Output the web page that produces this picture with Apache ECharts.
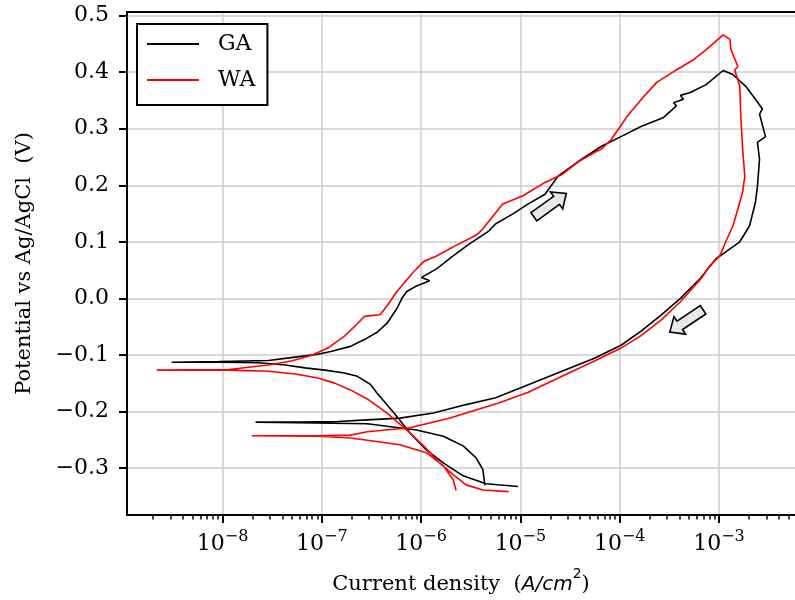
<!DOCTYPE html>
<html><head><meta charset="utf-8">
<script src="https://cdn.jsdelivr.net/npm/echarts@6/dist/echarts.min.js"></script>
<style>html,body{margin:0;padding:0;background:#fff}#c{width:795px;height:600px}</style>
</head><body><div id="c"></div><script>
// GA (black): forward scan (cathodic -> Ecorr -> anodic -> apex) then reverse scan
const gaCurrent = [
  9.5e-6, 4.49e-6, 2.65e-6, 1.67e-6, 1.13e-6, 7.69e-7, 5.33e-7, 3.61e-7, 3.07e-7, 2.28e-7, 1.69e-7, 1.07e-7, 6.78e-8, 4.28e-8, 2.31e-8, 9.2e-9, 3.07e-9,
  9.2e-9, 2.9e-8, 5.39e-8, 9.12e-8, 1.23e-7, 1.94e-7, 2.68e-7, 3.61e-7, 4.54e-7, 5.7e-7, 6.4e-7, 7.17e-7, 9.0e-7, 1.22e-6, 1.01e-6, 1.43e-6, 2.1e-6, 3.04e-6, 4.8e-6, 5.64e-6, 8.32e-6, 1.2e-5, 1.77e-5, 2.39e-5, 4.14e-5, 6.55e-5, 1.03e-4, 1.64e-4, 2.77e-4, 3.25e-4, 3.73e-4, 3.48e-4, 4.38e-4, 4.09e-4, 5.14e-4, 7.43e-4, 1.1e-3,
  1.38e-3, 1.86e-3, 2.33e-3, 2.74e-3, 2.56e-3, 2.94e-3, 2.44e-3, 2.56e-3, 2.44e-3, 2.33e-3, 2.03e-3, 1.62e-3, 1.17e-3, 9.33e-4, 6.47e-4, 4.09e-4, 2.59e-4, 1.64e-4, 1.03e-4, 5.57e-5, 2.62e-5, 1.2e-5, 5.64e-6, 2.84e-6, 1.33e-6, 6.11e-7, 2.87e-7, 1.44e-7, 5.78e-8, 2.15e-8,
  5.78e-8, 2.87e-7, 9.0e-7, 1.67e-6, 2.65e-6, 3.57e-6, 4.19e-6, 4.38e-6
];
const gaPotential = [
  -0.333, -0.328, -0.314, -0.291, -0.268, -0.238, -0.203, -0.168, -0.152, -0.138, -0.132, -0.127, -0.123, -0.118, -0.114, -0.113, -0.113,
  -0.112, -0.110, -0.104, -0.099, -0.094, -0.085, -0.073, -0.060, -0.044, -0.018, 0.000, 0.012, 0.022, 0.031, 0.037, 0.052, 0.075, 0.096, 0.119, 0.132, 0.149, 0.167, 0.184, 0.216, 0.246, 0.269, 0.286, 0.304, 0.320, 0.331, 0.341, 0.346, 0.352, 0.359, 0.364, 0.378, 0.403,
  0.396, 0.375, 0.352, 0.335, 0.326, 0.286, 0.276, 0.246, 0.198, 0.170, 0.128, 0.100, 0.082, 0.070, 0.035, 0.000, -0.030, -0.058, -0.083, -0.106, -0.129, -0.153, -0.176, -0.188, -0.203, -0.212, -0.215, -0.218, -0.219, -0.219,
  -0.220, -0.222, -0.233, -0.244, -0.261, -0.282, -0.303, -0.331
];
// WA (red)
const waCurrent = [
  7.6e-6, 4.19e-6, 2.84e-6, 2.1e-6, 1.53e-6, 1.06e-6, 7.17e-7, 4.54e-7, 2.87e-7, 1.94e-7, 1.35e-7, 9.12e-8, 5.39e-8, 2.9e-8, 1.16e-8, 2.18e-9,
  1.16e-8, 2.9e-8, 4.92e-8, 7.78e-8, 1.15e-7, 1.69e-7, 2.28e-7, 2.68e-7, 3.86e-7, 4.54e-7, 5.7e-7, 8.42e-7, 1.06e-6, 1.43e-6, 2.1e-6, 3.33e-6, 3.73e-6, 4.19e-6, 6.62e-6, 1.05e-5, 1.77e-5, 2.62e-5, 3.78e-5, 5.57e-5, 6.55e-5, 8.22e-5, 1.19e-4, 1.75e-4, 2.36e-4, 3.73e-4, 5.51e-4, 7.43e-4, 1.1e-3,
  1.29e-3, 1.32e-3, 1.55e-3, 1.44e-3, 1.62e-3, 1.66e-3, 1.73e-3, 1.82e-3, 1.73e-3, 1.55e-3, 1.38e-3, 1.17e-3, 1.02e-3, 8.13e-4, 6.62e-4, 4.09e-4, 2.59e-4, 1.64e-4, 1.03e-4, 5.57e-5, 2.62e-5, 1.2e-5, 6.04e-6, 1.92e-6, 7.69e-7, 2.87e-7, 1.94e-7, 9.12e-8, 1.97e-8,
  9.12e-8, 1.94e-7, 2.87e-7, 6.11e-7, 1.13e-6, 1.67e-6, 2.1e-6, 2.25e-6
];
const waPotential = [
  -0.342, -0.339, -0.330, -0.312, -0.291, -0.261, -0.233, -0.203, -0.178, -0.162, -0.150, -0.141, -0.134, -0.129, -0.127, -0.127,
  -0.126, -0.118, -0.111, -0.101, -0.088, -0.067, -0.045, -0.032, -0.029, -0.013, 0.012, 0.047, 0.065, 0.075, 0.091, 0.109, 0.114, 0.123, 0.167, 0.181, 0.205, 0.219, 0.241, 0.258, 0.264, 0.281, 0.322, 0.357, 0.382, 0.404, 0.422, 0.440, 0.466,
  0.458, 0.440, 0.410, 0.404, 0.375, 0.322, 0.264, 0.216, 0.188, 0.158, 0.128, 0.100, 0.075, 0.058, 0.035, -0.006, -0.039, -0.066, -0.088, -0.111, -0.138, -0.166, -0.185, -0.212, -0.229, -0.236, -0.242, -0.243, -0.243,
  -0.244, -0.247, -0.251, -0.259, -0.273, -0.296, -0.321, -0.340
];
const seriesNames = ['GA', 'WA'];
const xTicks = [1e-8, 1e-7, 1e-6, 1e-5, 1e-4, 1e-3];
const xTickExp = ['−8', '−7', '−6', '−5', '−4', '−3'];
const xMinorTicks = [
  2e-9,3e-9,4e-9,5e-9,6e-9,7e-9,8e-9,9e-9,
  2e-8,3e-8,4e-8,5e-8,6e-8,7e-8,8e-8,9e-8,
  2e-7,3e-7,4e-7,5e-7,6e-7,7e-7,8e-7,9e-7,
  2e-6,3e-6,4e-6,5e-6,6e-6,7e-6,8e-6,9e-6,
  2e-5,3e-5,4e-5,5e-5,6e-5,7e-5,8e-5,9e-5,
  2e-4,3e-4,4e-4,5e-4,6e-4,7e-4,8e-4,9e-4,
  2e-3,3e-3,4e-3,5e-3
];
const yTicks = [-0.3, -0.2, -0.1, 0, 0.1, 0.2, 0.3, 0.4, 0.5];
const yTickLabels = ['−0.3', '−0.2', '−0.1', '0.0', '0.1', '0.2', '0.3', '0.4', '0.5'];
// direction arrows: [current, potential, screen angle (deg)]
const arrowCurrent = [1.99e-5, 4.7e-4];
const arrowPotential = [0.165, -0.040];
const arrowAngle = [-35.7, 146.3];

const xMin = 1.09e-9, xMax = 5.83e-3, yMin = -0.3833, yMax = 0.5065;
const serif = 'DejaVu Serif';

function xLabel(v) {
  for (let i = 0; i < xTicks.length; i++) {
    if (Math.abs(Math.log10(v) - Math.log10(xTicks[i])) < 0.01) return '{b|10}{s|' + xTickExp[i] + '}';
  }
  return '';
}
function yLabel(v) {
  for (let i = 0; i < yTicks.length; i++) if (Math.abs(v - yTicks[i]) < 1e-6) return yTickLabels[i];
  return '';
}

const chart = echarts.init(document.getElementById('c'), null, {renderer: 'canvas'});
const pairs = (xs, ys) => xs.map((x, i) => [x, ys[i]]);
const arrowData = arrowCurrent.map((c, i) => [c, arrowPotential[i], arrowAngle[i]]);

chart.setOption({
  animation: false,
  backgroundColor: '#fff',
  grid: {left: 127, right: -8, top: 12, bottom: 83, containLabel: false},
  legend: {
    data: seriesNames,
    orient: 'vertical',
    left: 137, top: 24,
    padding: [9, 12, 14, 10],
    icon: 'rect',
    itemWidth: 52, itemHeight: 2, itemGap: 14,
    borderColor: '#000', borderWidth: 2, backgroundColor: '#fff',
    textStyle: {fontFamily: serif, fontSize: 22, color: '#000', lineHeight: 22, padding: [0, 0, 0, 14]}
  },
  xAxis: [
    {
      type: 'log', logBase: 10, min: xMin, max: xMax, position: 'bottom',
      axisLine: {show: true, onZero: false, lineStyle: {color: '#000', width: 2}},
      axisTick: {show: true, customValues: xTicks, length: 8, lineStyle: {color: '#000', width: 2}},
      axisLabel: {
        customValues: xTicks, margin: 14, formatter: xLabel,
        rich: {
          b: {fontFamily: serif, fontSize: 22, color: '#000', lineHeight: 26, verticalAlign: 'bottom'},
          s: {fontFamily: serif, fontSize: 16, color: '#000', lineHeight: 16, verticalAlign: 'top'}
        }
      },
      splitLine: {show: true, customValues: xTicks, lineStyle: {color: '#cccccc', width: 1.5}},
      minorTick: {show: false}, minorSplitLine: {show: false},
      name: '{t|Current density  (}{i|A/cm}{s|2}{t|)}',
      nameLocation: 'middle', nameGap: 52,
      nameTextStyle: {
        fontFamily: serif, fontSize: 21, color: '#000',
        rich: {
          t: {fontFamily: serif, fontSize: 21, color: '#000', lineHeight: 28, verticalAlign: 'bottom'},
          i: {fontFamily: 'DejaVu Sans', fontStyle: 'italic', fontSize: 20, color: '#000', lineHeight: 28, verticalAlign: 'bottom'},
          s: {fontFamily: 'DejaVu Sans', fontSize: 14, color: '#000', lineHeight: 14, verticalAlign: 'top'}
        }
      }
    },
    {
      type: 'log', logBase: 10, min: xMin, max: xMax, position: 'top',
      axisLine: {show: true, onZero: false, lineStyle: {color: '#000', width: 2}},
      axisTick: {show: false}, axisLabel: {show: false}, splitLine: {show: false}
    },
    {
      type: 'log', logBase: 10, min: xMin, max: xMax, position: 'bottom',
      axisLine: {show: false, onZero: false},
      axisTick: {show: true, customValues: xMinorTicks, length: 4.5, lineStyle: {color: '#000', width: 1.5}},
      axisLabel: {show: false}, splitLine: {show: false}
    }
  ],
  yAxis: [
    {
      type: 'value', min: yMin, max: yMax, splitNumber: 9, position: 'left',
      axisLine: {show: true, onZero: false, lineStyle: {color: '#000', width: 2}},
      axisTick: {show: true, customValues: yTicks, length: 8, lineStyle: {color: '#000', width: 2}},
      axisLabel: {customValues: yTicks, formatter: yLabel, margin: 18, fontFamily: serif, fontSize: 22, color: '#000'},
      splitLine: {show: true, customValues: yTicks, lineStyle: {color: '#cccccc', width: 1.5}},
      name: 'Potential vs Ag/AgCl  (V)',
      nameLocation: 'middle', nameGap: 92,
      nameTextStyle: {fontFamily: serif, fontSize: 21, color: '#000'}
    }
  ],
  series: [
    {
      name: seriesNames[0], type: 'line', xAxisIndex: 0, yAxisIndex: 0,
      data: pairs(gaCurrent, gaPotential),
      symbol: 'none', showSymbol: false, smooth: false,
      lineStyle: {color: '#000000', width: 1.6}, itemStyle: {color: '#000000'}, z: 3
    },
    {
      name: seriesNames[1], type: 'line', xAxisIndex: 0, yAxisIndex: 0,
      data: pairs(waCurrent, waPotential),
      symbol: 'none', showSymbol: false, smooth: false,
      lineStyle: {color: '#ff0000', width: 1.6}, itemStyle: {color: '#ff0000'}, z: 4
    },
    {
      type: 'custom', xAxisIndex: 0, yAxisIndex: 0, z: 5, clip: false,
      data: arrowData,
      encode: {x: 0, y: 1},
      renderItem: function (params, api) {
        const c = api.coord([api.value(0), api.value(1)]);
        const a = api.value(2) * Math.PI / 180;
        const L = 20, hl = 12, sw = 5, hw = 10.5;
        const local = [[-L, -sw], [L - hl, -sw], [L - hl, -hw], [L, 0], [L - hl, hw], [L - hl, sw], [-L, sw]];
        const ca = Math.cos(a), sa = Math.sin(a);
        const pts = local.map(p => [c[0] + p[0] * ca - p[1] * sa, c[1] + p[0] * sa + p[1] * ca]);
        return {type: 'polygon', shape: {points: pts}, style: {fill: '#e8e8e8', stroke: '#000', lineWidth: 1.6}};
      }
    }
  ]
});
</script></body></html>
